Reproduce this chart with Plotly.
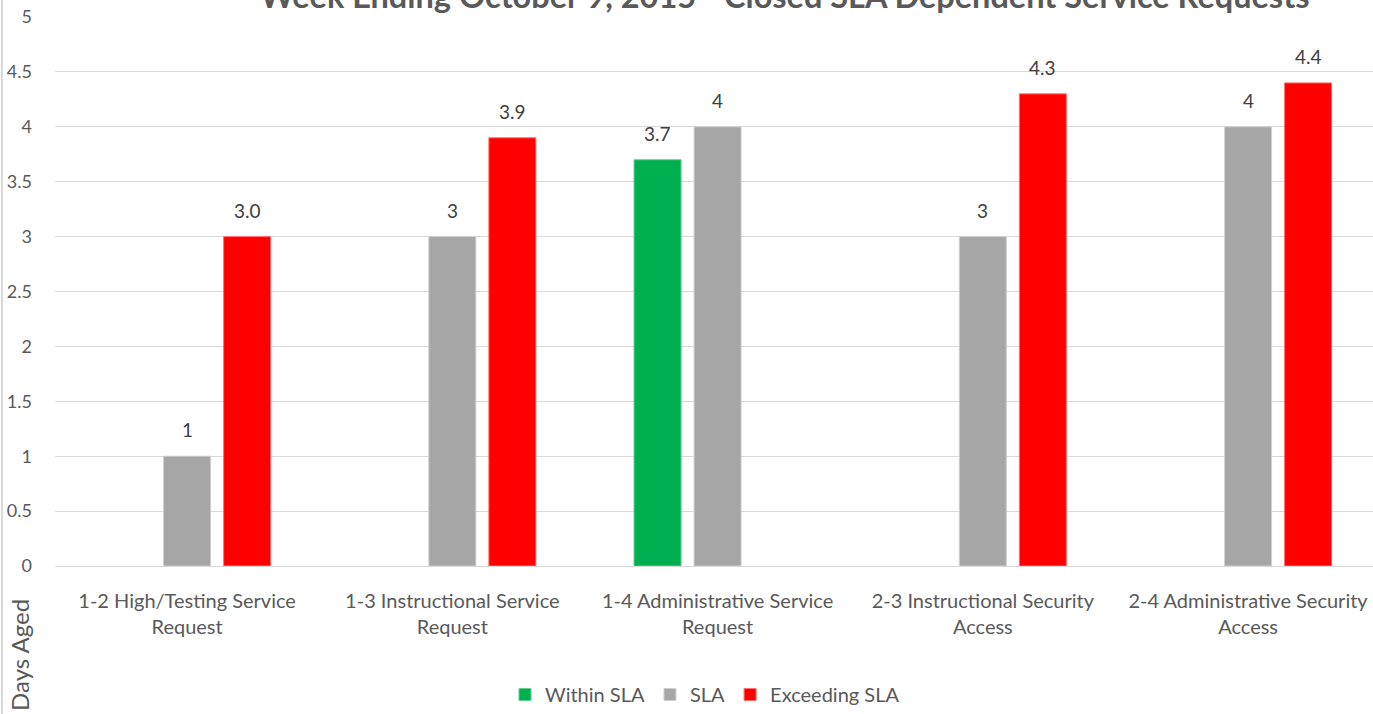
import plotly.graph_objects as go

categories = [
    "1-2 High/Testing Service<br>Request",
    "1-3 Instructional Service<br>Request",
    "1-4 Administrative Service<br>Request",
    "2-3 Instructional Security<br>Access",
    "2-4 Administrative Security<br>Access",
]
within_sla = [None, None, 3.7, None, None]
sla = [1, 3, 4, 3, 4]
exceeding_sla = [3.0, 3.9, None, 4.3, 4.4]
y_ticks = [0, 0.5, 1, 1.5, 2, 2.5, 3, 3.5, 4, 4.5, 5]

title_text = "Week Ending October 9, 2015 - Closed SLA Dependent Service Requests"
font_family = "Lato, Liberation Sans, Arial, sans-serif"
text_color = "#595959"

series = [
    ("Within SLA", within_sla, "#00b050", "#5fd08f", "{:g}", -1),
    ("SLA", sla, "#a6a6a6", "#cfcfcf", "{:g}", 0),
    ("Exceeding SLA", exceeding_sla, "#ff0000", "#ff7070", "{:.1f}", 1),
]

W, H = 1373, 714
ML, MT, MB = 55, 17, 147
PW = W - ML

fig = go.Figure()
idx = list(range(len(categories)))
slot = 0.226
annotations = []
for name, vals, color, edge, fmt, pos in series:
    fig.add_trace(go.Bar(
        name=name, x=idx, y=vals,
        marker=dict(color=color, line=dict(color=edge, width=1)),
    ))
    for i, v in enumerate(vals):
        if v is None:
            continue
        annotations.append(dict(
            x=i + pos * slot, y=v, xref="x", yref="y",
            text=fmt.format(v), showarrow=False,
            yanchor="bottom", yshift=13,
            font=dict(family=font_family, size=19, color="#404040"),
        ))

annotations.append(dict(
    x=(785 - ML) / PW, y=1.0, xref="paper", yref="paper",
    text="<b>" + title_text + "</b>",
    showarrow=False, yanchor="middle", yshift=22,
    font=dict(family=font_family, size=32.5, color="#595959"),
))
annotations.append(dict(
    x=(20 - ML) / PW, y=-0.162, xref="paper", yref="paper",
    text="Days Aged", textangle=-90, showarrow=False,
    xanchor="center", yanchor="middle",
    font=dict(family=font_family, size=24, color=text_color),
))

fig.update_layout(
    width=W, height=H,
    margin=dict(l=ML, r=0, t=MT, b=MB, pad=0),
    paper_bgcolor="white", plot_bgcolor="white",
    barmode="group", bargap=0.321, bargroupgap=0.217,
    font=dict(family=font_family, size=19, color=text_color),
    showlegend=True,
    legend=dict(orientation="h", x=(705 - ML) / PW, xanchor="center",
                y=-0.235, yanchor="middle",
                font=dict(family=font_family, size=20, color=text_color),
                itemwidth=30, traceorder="normal"),
    annotations=annotations,
)
fig.update_xaxes(
    tickmode="array", tickvals=idx, ticktext=categories,
    range=[-0.498, 4.471], showgrid=False, showline=False, zeroline=False,
    tickfont=dict(family=font_family, size=20, color=text_color),
    ticks="", ticklabelstandoff=21,
)
fig.update_yaxes(
    range=[0, 5], tickvals=y_ticks, ticktext=[f"{t:g}" for t in y_ticks],
    showgrid=True, gridcolor="#d9d9d9", gridwidth=1,
    zeroline=True, zerolinecolor="#d9d9d9", zerolinewidth=1,
    tickfont=dict(family=font_family, size=18, color=text_color),
    ticks="", ticklabelstandoff=22,
)
fig.add_shape(type="line", xref="paper", yref="paper",
              x0=(2 - ML) / PW, x1=(2 - ML) / PW, y0=-0.3, y1=1.1,
              line=dict(color="#d9d9d9", width=2))
fig.write_html("out.html", config={"displayModeBar": False},
               post_script="document.body.style.margin='0';document.body.style.overflow='hidden';")
